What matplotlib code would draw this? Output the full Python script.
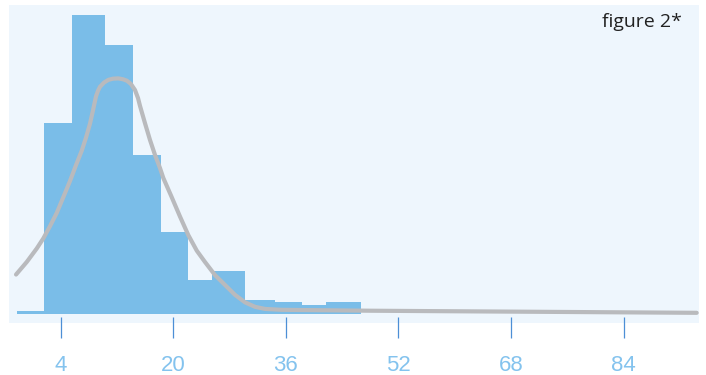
import matplotlib
matplotlib.use("Agg")
import matplotlib.pyplot as plt
from matplotlib.patches import Rectangle
import numpy as np

# ---- data ----
bin_edges = [-2.18, 1.65, 5.63, 10.36, 14.34, 18.23, 22.15, 25.56, 30.21, 34.47, 38.26, 41.67, 46.68]
bin_counts = [1.1, 63.9, 100.0, 90.0, 53.2, 27.3, 11.3, 14.4, 4.6, 3.9, 2.9, 3.9]

curve_x = [-2.32, -0.80, 0.62, 1.56, 2.51, 3.46, 4.40, 5.35, 6.20, 7.01, 7.62, 8.19,
           8.62, 9.04, 9.33, 9.61, 10.18, 10.79, 11.46, 12.21, 12.88, 13.44, 14.01,
           14.58, 15.01, 15.29, 16.00, 16.71, 17.42, 18.13, 18.60, 19.79, 20.97,
           22.15, 23.35, 24.52, 25.95, 27.37, 28.79, 30.21, 31.63, 33.05, 35.42,
           47.96, 94.37]
curve_y = [13.2, 17.4, 21.9, 25.3, 29.4, 33.8, 39.1, 44.5, 49.8, 54.6, 59.0, 63.7,
           68.2, 72.8, 74.7, 76.0, 77.4, 78.3, 78.7, 78.8, 78.5, 78.0, 76.9,
           74.9, 72.2, 69.6, 63.8, 58.2, 53.2, 48.8, 45.5, 39.1, 32.6,
           26.4, 21.2, 17.4, 13.0, 9.7, 6.4, 3.9, 2.4, 1.7, 1.4,
           1.1, 0.4]

tick_values = [4, 20, 36, 52, 68, 84]
tick_labels = ["4", "20", "36", "52", "68", "84"]
title_text = "figure 2*"

# ---- styling ----
BG = "#eef6fd"
BAR = "#7abde8"
LINE = "#b9babd"
TICK = "#4d8fd6"
LABEL = "#84c3ee"

W, H = 706, 375
fig = plt.figure(figsize=(W / 100, H / 100), dpi=100)

# background panel
fig.patches.append(Rectangle((9 / W, (H - 322.7) / H), 690 / W, 317.7 / H,
                             transform=fig.transFigure, facecolor=BG,
                             edgecolor="none", zorder=-5))

ax = fig.add_axes([9 / W, (H - 316.7) / H, 690 / W, 311.7 / H])
ax.set_zorder(2)
ax.set_facecolor("none")
ax.patch.set_visible(False)

widths = np.diff(bin_edges)
ax.bar(bin_edges[:-1], bin_counts, width=widths, align="edge", color=BAR,
       edgecolor="none", zorder=2)
ax.plot(curve_x, curve_y, color=LINE, lw=3.0, solid_capstyle="round",
        solid_joinstyle="round", zorder=3)

ax.set_xlim(-3.32, 94.7)
ax.set_ylim(-0.90, 103.34)

for s in ax.spines.values():
    s.set_visible(False)
ax.set_yticks([])
ax.set_xticks(tick_values)
ax.set_xticklabels(tick_labels, family=["Liberation Sans", "DejaVu Sans"],
                   fontsize=16, color=LABEL)
ax.tick_params(axis="x", direction="out", length=14.8, width=0.9, color=TICK, pad=13)

fig.text(682 / W, (H - 27.3) / H, title_text, ha="right", va="baseline",
         fontsize=14, color="#222222", family=["Open Sans", "DejaVu Sans"], zorder=10)

fig.savefig("out.png", dpi=100, facecolor="white")
